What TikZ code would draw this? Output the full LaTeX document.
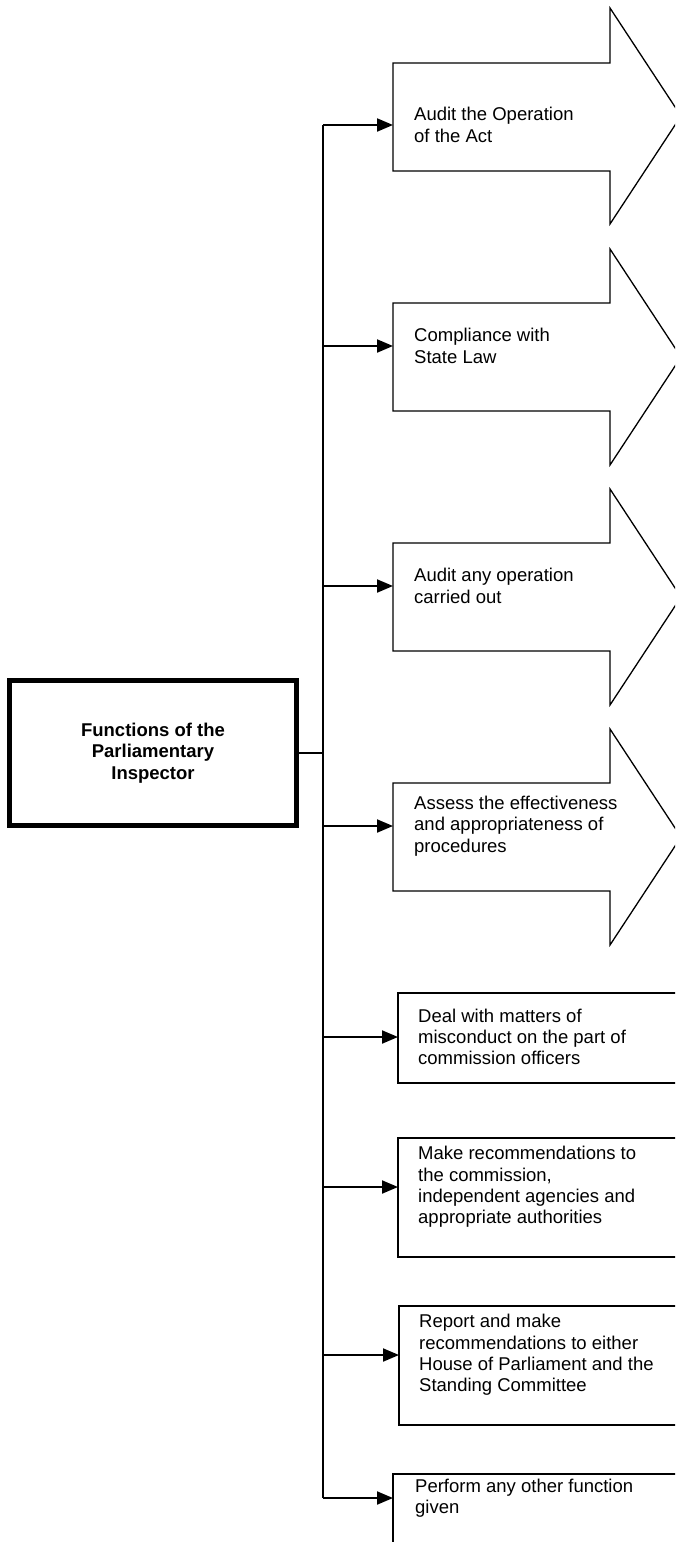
\documentclass[tikz,border=0pt]{standalone}
\usepackage{fontspec}
\setmainfont{Liberation Sans}
\usetikzlibrary{arrows.meta}

\tikzset{
  outline/.style={draw=black, line width=1.3pt, line join=miter},
  boxline/.style={draw=black, line width=1.8pt},
  feed/.style={draw=black, line width=2pt, -{Triangle[length=16pt,width=13pt]}},
  itemtext/.style={anchor=west, inner xsep=21pt, inner ysep=0pt, align=left,
    font=\fontsize{18.5pt}{21.3pt}\selectfont},
  chiefbox/.style={draw=black, line width=5pt, minimum width=287pt, minimum height=145pt,
    align=center, font=\bfseries\fontsize{18.5pt}{21.3pt}\selectfont}
}

\begin{document}
\begin{tikzpicture}[x=1pt,y=-1pt]
\useasboundingbox (0,0) rectangle (675,1542);
\clip (0,0) rectangle (675,1542);

% main box
\node [chiefbox] (chief) at (153,753) {Functions of the\\Parliamentary\\Inspector};

% big arrows
\draw [outline] (393,63) -- (610,63) -- (610,8) -- (681,116) -- (610,224) -- (610,171) -- (393,171) -- cycle;
\draw [outline] (393,303) -- (610,303) -- (610,249) -- (681,357) -- (610,465) -- (610,411) -- (393,411) -- cycle;
\draw [outline] (393,543) -- (610,543) -- (610,489) -- (681,597) -- (610,705) -- (610,651) -- (393,651) -- cycle;
\draw [outline] (393,783) -- (610,783) -- (610,729) -- (681,837) -- (610,945) -- (610,891) -- (393,891) -- cycle;

% plain boxes
\draw [boxline] (398,993) rectangle (700,1083);
\draw [boxline] (398,1138) rectangle (700,1257);
\draw [boxline] (399,1306) rectangle (700,1425);
\draw [boxline] (393,1474) rectangle (700,1560);

% texts
\node [itemtext] (opact) at (393,125) {Audit the Operation\\of the Act};
\node [itemtext] (statelaw) at (393,346) {Compliance with\\State Law};
\node [itemtext] (anyop) at (393,586) {Audit any operation\\carried out};
\node [itemtext] (assess) at (393,826) {Assess the effectiveness\\and appropriateness of\\procedures};
\node [itemtext, inner xsep=20pt] (misconduct) at (398,1037) {Deal with matters of\\misconduct on the part of\\commission officers};
\node [itemtext, inner xsep=20pt] (recomm) at (398,1187) {Make recommendations to\\the commission,\\independent agencies and\\appropriate authorities};
\node [itemtext, inner xsep=20pt] (report) at (399,1355) {Report and make\\recommendations to either\\House of Parliament and the\\Standing Committee};
\node [itemtext, inner xsep=22pt] (other) at (393,1498) {Perform any other function\\given};

% spine
\coordinate (spinetop) at (323,125);
\coordinate (spinebot) at (323,1498);
\draw [draw=black, line width=2pt] (spinetop) -- (spinebot);
\draw [draw=black, line width=1.3pt] (chief.east) -- (chief.east -| spinetop);

% connectors
\draw [feed] (spinetop |- opact.west) -- (opact.west);
\draw [feed] (spinetop |- statelaw.west) -- (statelaw.west);
\draw [feed] (spinetop |- anyop.west) -- (anyop.west);
\draw [feed] (spinetop |- assess.west) -- (assess.west);
\draw [feed] (spinetop |- misconduct.west) -- (misconduct.west);
\draw [feed] (spinetop |- recomm.west) -- (recomm.west);
\draw [feed] (spinetop |- report.west) -- (report.west);
\draw [feed] (spinetop |- other.west) -- (other.west);
\end{tikzpicture}
\end{document}
